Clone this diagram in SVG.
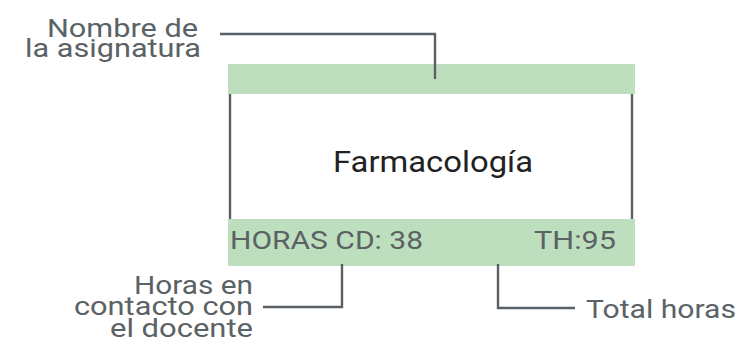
<svg xmlns="http://www.w3.org/2000/svg" width="740" height="342" viewBox="0 0 740 342">
<style>
.bar{fill:#bedfbd}
.ln{fill:none;stroke:#596166;stroke-width:2.4}
.lbl{font-family:Roboto,"Liberation Sans",sans-serif;font-size:26.5px;fill:#5b6266}
.title{font-family:Roboto,"Liberation Sans",sans-serif;font-size:30px;fill:#222222}
</style>
<rect width="740" height="342" fill="#ffffff"/>
<g id="card">
<rect class="bar" x="228" y="64" width="407" height="30"/>
<rect class="bar" x="228" y="219" width="407" height="47"/>
<line class="ln" x1="230" y1="94" x2="230" y2="219"/>
<line class="ln" x1="632" y1="94" x2="632" y2="219"/>
<text class="title" x="333" y="172" textLength="200" lengthAdjust="spacingAndGlyphs">Farmacología</text>
<text class="lbl" x="230" y="249" textLength="193" lengthAdjust="spacingAndGlyphs">HORAS CD: 38</text>
<text class="lbl" x="534" y="249" textLength="82" lengthAdjust="spacingAndGlyphs">TH:95</text>
</g>
<g id="label-nombre">
<text class="lbl" x="47" y="37" textLength="151" lengthAdjust="spacingAndGlyphs">Nombre de</text>
<text class="lbl" x="25" y="57" textLength="176" lengthAdjust="spacingAndGlyphs">la asignatura</text>
</g>
<g id="label-horas-cd">
<text class="lbl" x="134" y="294" textLength="119" lengthAdjust="spacingAndGlyphs">Horas en</text>
<text class="lbl" x="74" y="315" textLength="179" lengthAdjust="spacingAndGlyphs">contacto con</text>
<text class="lbl" x="110" y="337" textLength="143" lengthAdjust="spacingAndGlyphs">el docente</text>
</g>
<g id="label-total">
<text class="lbl" x="586" y="318" textLength="150" lengthAdjust="spacingAndGlyphs">Total horas</text>
</g>
<g id="connectors">
<polyline class="ln" points="220,34 435,34 435,79"/>
<polyline class="ln" points="342,264 342,307 263,307"/>
<polyline class="ln" points="498,264 498,308 575,308"/>
</g>
</svg>
